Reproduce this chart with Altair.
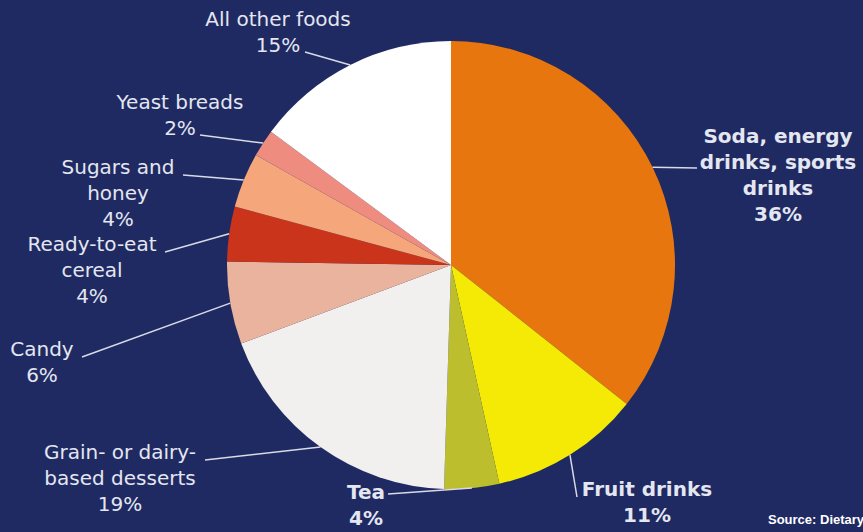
import math
import altair as alt
import pandas as pd

# ---------------- data ----------------
categories = [
    "Soda, energy drinks, sports drinks",
    "Fruit drinks",
    "Tea",
    "Grain- or dairy-based desserts",
    "Candy",
    "Ready-to-eat cereal",
    "Sugars and honey",
    "Yeast breads",
    "All other foods",
]
shares = [36, 11, 4, 19, 6, 4, 4, 2, 15]
label_text = [
    "Soda, energy\ndrinks, sports\ndrinks\n36%",
    "Fruit drinks\n11%",
    "Tea\n4%",
    "Grain- or dairy-\nbased desserts\n19%",
    "Candy\n6%",
    "Ready-to-eat\ncereal\n4%",
    "Sugars and\nhoney\n4%",
    "Yeast breads\n2%",
    "All other foods\n15%",
]
source_text = "Source: Dietary"

# ---------------- styles / layout ----------------
colors = ["#E8760F", "#F4EA05", "#BDBE2E", "#F1F0EE", "#EAB39D",
          "#C9341B", "#F6A67B", "#EF8C80", "#FFFFFF"]
bold = [True, True, True, False, False, False, False, False, False]
BG = "#1F2A62"
TXT = "#E4E6F0"
W, H = 863, 532
CX, CY, R = 451, 265, 224
# label anchor (text centre x, first baseline y) and leader start point
label_pos = [(778, 143), (647, 496), (366, 499), (120, 459), (42, 356),
             (92, 251), (118, 174), (180, 109), (278, 26)]
leader_start = [(697, 168), (577, 497), (388, 494), (205, 460), (82, 357),
                (165, 252), (183, 175), (200, 135), (305, 52)]

total = sum(shares)
rows = []
cum = 0
for i, (c, s) in enumerate(zip(categories, shares)):
    mid = (cum + s / 2) / total * 2 * math.pi
    cum += s
    ex = CX + R * math.sin(mid)
    ey = CY - R * math.cos(mid)
    rows.append(dict(idx=i, category=c, share=s, label=label_text[i],
                     bold=bold[i], lx=label_pos[i][0], ly=label_pos[i][1],
                     sx=leader_start[i][0], sy=leader_start[i][1],
                     ex=ex, ey=ey))
df = pd.DataFrame(rows)

base = alt.Chart(df)

pie = base.mark_arc(outerRadius=R).encode(
    theta=alt.Theta("share:Q", stack=True),
    color=alt.Color("category:N", scale=alt.Scale(domain=categories, range=colors), legend=None),
    order=alt.Order("idx:Q"),
    x=alt.value(CX),
    y=alt.value(CY),
)

leaders = base.mark_rule(color="#D8DAE6", strokeWidth=1.5).encode(
    x=alt.X("sx:Q", scale=None),
    y=alt.Y("sy:Q", scale=None),
    x2="ex:Q",
    y2="ey:Q",
)

common_text = dict(align="center", baseline="alphabetic", lineBreak="\n",
                   lineHeight=26, font="DejaVu Sans", fontSize=20, color=TXT)

labels_bold = base.transform_filter("datum.bold").mark_text(
    fontWeight="bold", **common_text
).encode(x=alt.X("lx:Q", scale=None), y=alt.Y("ly:Q", scale=None), text="label:N")

labels_norm = base.transform_filter("!datum.bold").mark_text(
    fontWeight="normal", **common_text
).encode(x=alt.X("lx:Q", scale=None), y=alt.Y("ly:Q", scale=None), text="label:N")

source = alt.Chart(pd.DataFrame({"t": [source_text]})).mark_text(
    align="left", baseline="alphabetic", font="Liberation Sans", fontSize=13,
    fontWeight="bold", color="#FFFFFF"
).encode(x=alt.value(768), y=alt.value(524), text="t:N")

chart = alt.layer(pie, leaders, labels_norm, labels_bold, source).properties(
    width=W, height=H, padding=0, autosize=alt.AutoSizeParams(type="none"),
    background=BG,
).configure_view(stroke=None)

chart.save("out.html", embed_options={"renderer": "svg", "actions": False})
